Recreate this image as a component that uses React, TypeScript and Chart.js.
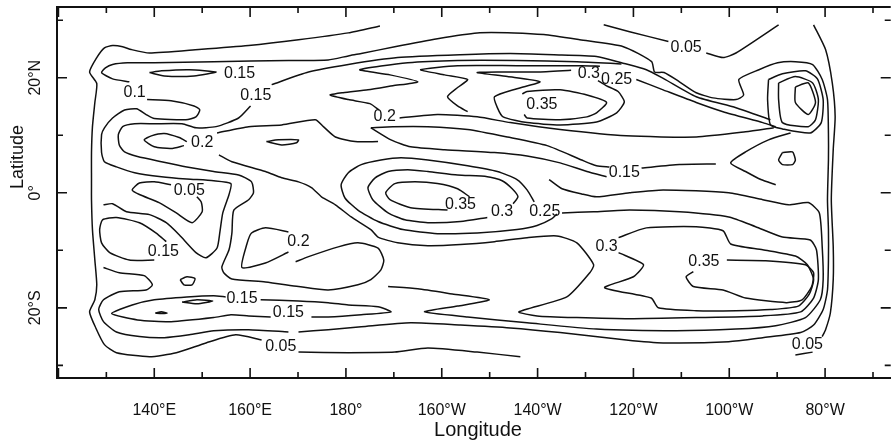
import { useEffect, useRef } from 'react';
import { Chart, registerables } from 'chart.js';

Chart.register(...registerables);

// ---- axis ticks ----
const lonTicks = [120, 130, 140, 150, 160, 170, 180, 190, 200, 210, 220, 230, 240, 250, 260, 270, 280, 290];
const lonTickLabels: Record<number, string> = {
  140: '140°E', 160: '160°E', 180: '180°', 200: '160°W', 220: '140°W', 240: '120°W', 260: '100°W', 280: '80°W',
};
const latTicks = [-30, -20, -10, 0, 10, 20, 30];
const latTickLabels: Record<number, string> = { 20: '20°N', 0: '0°', [-20]: '20°S' };

// ---- contour lines: [longitude (deg E, 0-360), latitude] ----
const c05West = [[187.1,29.0],[180.5,27.8],[170.1,26.6],[159.7,25.6],[149.3,24.9],[139.0,24.3],[135.2,24.9],[133.4,25.4],[131.3,25.6],[129.6,25.2],[128.0,23.5],[126.5,21.0],[128.0,19.0],[127.6,15.7],[127.1,11.5],[126.9,7.0],[126.9,2.3],[126.9,-1.2],[127.1,-6.4],[127.6,-11.7],[128.0,-16.0],[127.6,-18.6],[126.5,-20.7],[127.8,-23.5],[129.6,-26.4],[132.1,-27.8],[139.0,-28.5],[144.6,-27.8],[150.8,-26.1],[157.0,-24.7],[162.4,-25.6]];
const c05South = [[170.1,-27.7],[180.5,-27.8],[190.2,-27.7],[197.1,-27.0],[207.4,-27.7],[216.4,-28.5]];
const c05NorthA = [[233.8,29.2],[239.2,28.0],[247.3,26.3]];
const c05NorthB = [[255.2,24.3],[258.7,23.5],[261.4,24.3],[270.3,29.2]];
const c05East = [[277.6,29.2],[280.1,24.9],[281.5,19.1],[282.1,13.2],[281.7,7.5],[281.3,-1.2],[281.7,-9.4],[281.7,-15.1],[281.1,-20.9],[280.1,-23.8],[279.4,-25.0]];
const c05EastTail = [[277.4,-27.7],[273.8,-28.2]];
const c05Low = [[143.5,1.4],[140.0,1.9],[136.9,1.7],[135.4,0.5],[136.9,-0.3],[141.0,-1.7],[144.6,-3.5],[147.9,-5.2],[150.0,-3.3],[149.8,-1.6],[148.9,-0.7]];

const c10Main = [[134.8,19.3],[131.3,19.8],[129.0,20.9],[129.8,21.7],[131.3,22.3],[134.4,22.6],[140.0,22.6],[152.4,22.8],[168.0,23.0],[176.3,23.1],[180.5,23.8],[183.2,24.2],[190.2,25.4],[199.1,26.8],[207.4,27.8],[215.1,27.8],[221.3,27.5],[228.8,26.6],[237.9,25.4],[243.8,22.8],[244.4,21.0],[246.4,20.9],[249.6,19.3],[253.1,17.4],[256.6,16.5],[261.4,16.2],[263.0,17.0],[262.0,19.7],[266.2,21.4],[270.1,22.6],[273.8,22.8],[277.4,22.3],[279.4,19.7],[280.5,16.2],[280.7,10.4],[280.7,5.7],[280.5,-1.2],[280.7,-6.4],[280.7,-11.7],[280.5,-16.9],[279.6,-20.3],[277.6,-23.0],[274.9,-24.3],[267.0,-25.2],[259.9,-25.9],[246.2,-26.1],[238.5,-25.6],[224.7,-24.3],[214.3,-23.5],[203.9,-23.0],[193.5,-22.6],[183.2,-23.3],[176.3,-23.8],[170.1,-24.2]];
const c10West = [[138.5,16.2],[143.5,16.0],[148.3,15.1],[149.5,14.4],[148.7,13.2],[146.6,12.7],[140.0,12.9],[138.3,13.6],[136.3,14.6],[133.8,14.4],[131.3,13.0],[129.6,11.3],[129.0,10.1],[129.0,7.0],[129.6,5.4],[132.1,4.5],[135.9,3.5],[141.5,2.8],[146.8,2.4],[152.4,2.1],[156.0,1.6],[155.6,-0.3],[154.3,-3.5],[153.7,-6.8],[153.1,-9.6],[150.8,-11.3],[148.7,-10.4],[145.2,-7.3],[142.5,-5.2],[139.0,-3.8],[134.2,-3.3],[131.3,-1.9],[129.4,-2.1]];
const c10SouthWest = [[129.4,-13.0],[132.7,-13.9],[137.9,-14.4],[139.6,-16.0],[138.3,-16.9],[132.7,-17.2],[129.4,-18.6],[128.4,-20.3],[129.4,-22.4],[132.1,-24.2],[136.9,-25.0],[142.1,-25.2],[147.3,-24.7],[152.4,-24.0],[159.7,-23.8],[168.0,-24.2]];

const c15Slender = [[139.0,20.9],[141.5,21.2],[147.3,21.4],[152.9,21.0],[148.3,20.3],[142.1,20.3],[139.0,20.9]];
const c15North = [[164.5,18.8],[172.2,21.0],[180.5,22.3],[190.8,23.5],[203.9,24.0],[214.3,24.2],[223.4,24.0],[232.3,23.7],[237.5,22.6],[242.7,21.4],[246.4,19.8],[253.1,16.7],[261.4,14.8],[268.6,12.7]];
const c15WestU = [[160.1,15.1],[157.6,13.0],[152.9,11.5],[148.7,11.3],[145.8,12.0],[140.0,12.0],[135.9,12.0],[133.4,11.5],[132.5,10.1],[132.7,8.3],[133.8,7.1],[136.5,6.3],[141.5,5.4],[146.8,4.5],[152.4,3.7],[157.6,3.1],[160.3,1.9],[160.7,0.0],[159.7,-1.2],[156.6,-3.0],[156.2,-7.0],[155.6,-9.9],[154.1,-12.9],[154.5,-13.9],[156.2,-15.0],[163.2,-15.5],[170.1,-16.3],[176.3,-16.9],[182.5,-16.0],[185.2,-15.1],[187.3,-13.4],[187.9,-11.7],[186.7,-9.6],[182.5,-8.7],[178.4,-9.4],[172.2,-11.1],[169.5,-12.0]];
const c15Left = [[140.0,-11.7],[134.8,-11.7],[130.7,-10.4],[129.0,-8.7],[128.6,-6.4],[129.2,-4.7],[132.1,-4.3],[136.9,-5.2],[140.4,-7.0],[142.5,-8.5]];
const c15SouthA = [[154.9,-18.1],[152.4,-17.9],[146.8,-18.1],[140.0,-18.6],[135.4,-19.5],[131.1,-21.0],[136.5,-22.1],[143.5,-22.4],[152.4,-21.7],[156.0,-21.2],[159.7,-21.4],[164.3,-21.6]];
const c15SouthB = [[172.8,-21.6],[176.3,-21.6],[183.2,-21.2],[189.4,-20.7],[186.7,-19.8],[180.5,-19.5],[176.3,-19.1],[170.1,-18.8],[162.2,-18.6]];
const c15TongueLow = [[185.2,11.3],[189.4,9.2],[193.5,8.0],[200.6,7.5],[211.0,7.0],[217.8,6.4],[224.7,5.2],[230.3,3.7],[234.4,2.8]];
const c15TongueHigh = [[185.2,11.3],[189.8,11.5],[197.1,11.5],[205.4,11.0],[213.7,9.7],[222.0,8.2],[229.2,5.7],[232.3,4.7],[235.0,4.5]];
const c15East = [[241.7,4.3],[249.6,4.9],[257.2,5.0]];
const c15EastTongue = [[272.8,10.4],[268.2,9.2],[263.4,7.1],[260.3,5.2],[263.4,3.7],[266.6,2.3],[269.7,1.4]];
const circleSW = [[145.4,-15.1],[146.8,-14.6],[148.5,-14.9],[147.9,-16.0],[146.2,-16.0],[145.4,-15.1]];
const dashSW1 = [[140.2,-20.9],[141.5,-20.7],[142.7,-20.9],[141.5,-21.0],[140.2,-20.9]];
const dashSW2 = [[145.8,-19.0],[148.9,-18.6],[152.2,-18.8],[148.9,-19.3],[145.8,-19.0]];

const c20Loop = [[146.8,8.9],[145.2,9.6],[142.1,10.3],[139.4,9.9],[137.9,9.2],[140.0,8.0],[143.5,7.7],[146.2,8.2]];
const c20Top = [[153.1,10.4],[159.7,11.5],[166.6,11.8],[173.6,12.7],[175.3,11.5],[177.8,9.7],[181.9,8.9],[186.7,8.9]];
const c20Island = [[163.4,8.9],[165.9,9.2],[170.1,9.2],[169.7,8.7],[166.6,8.3],[163.4,8.9]];
const c20SouthWest = [[168.0,-6.8],[163.2,-6.1],[160.3,-7.0],[159.3,-9.0],[158.3,-13.0],[163.2,-12.2],[168.0,-10.3]];
const c20NorthZig = [[237.5,22.4],[228.2,22.8],[215.7,23.0],[203.3,23.0],[192.9,22.6],[182.9,21.4],[189.2,20.5],[195.0,19.3],[189.8,18.6],[184.6,17.9],[179.4,17.4],[176.7,17.0],[180.5,16.2],[185.0,15.5],[186.9,14.4]];
const c20NorthLow = [[191.2,13.0],[199.1,13.6],[207.4,13.2],[214.3,12.2],[224.7,11.0],[238.5,9.9],[253.1,9.7],[263.4,10.6],[269.3,11.3]];
const c20SouthEast = [[222.4,2.3],[225.1,0.7],[229.2,-0.2],[232.3,-0.7],[239.2,0.0],[246.2,0.5],[259.9,0.0],[267.0,-1.2],[272.4,-2.1],[276.5,-1.7],[278.8,-3.5],[279.4,-9.4],[279.6,-15.1],[279.0,-18.6],[275.9,-21.7],[269.7,-23.1],[261.4,-23.7],[248.9,-24.0],[232.3,-23.7],[217.8,-22.6],[205.4,-21.6],[196.4,-20.7],[203.3,-19.7],[209.9,-18.6],[202.2,-17.6],[195.0,-16.7],[188.8,-16.3]];
const c20Long = [[153.5,6.6],[156.2,5.4],[163.2,3.7],[166.6,2.6],[170.1,1.9],[172.8,0.9],[174.9,-0.7],[177.8,-2.1],[181.1,-4.2],[185.2,-6.4],[186.7,-7.7],[190.8,-8.7],[197.1,-9.2],[203.9,-9.0],[211.0,-8.5],[217.8,-7.8],[224.0,-7.5],[228.2,-8.7],[231.7,-12.5],[230.9,-13.9],[226.1,-18.1],[216.1,-20.7],[219.9,-21.4],[228.2,-21.7],[239.2,-21.9],[253.1,-21.7],[267.0,-21.4],[274.9,-20.7],[277.6,-18.3],[278.6,-15.1],[278.2,-9.9],[276.9,-8.2],[271.1,-7.7],[265.5,-5.9],[259.9,-4.2],[249.6,-3.3],[239.2,-3.0],[231.7,-3.3],[225.1,-3.5]];

const c25Eq = [[219.3,-1.6],[217.8,0.5],[215.7,2.3],[211.6,3.7],[205.4,4.7],[197.1,5.7],[191.5,6.1],[187.3,5.7],[183.2,4.9],[180.5,3.5],[179.0,1.4],[179.8,-0.9],[182.5,-3.0],[186.7,-5.0],[191.9,-6.4],[199.1,-7.1],[207.4,-7.0],[215.7,-6.4],[219.9,-5.7],[223.0,-4.5],[224.0,-3.7]];
const c25North = [[240.6,19.7],[246.2,17.9],[253.1,15.7],[258.7,14.1],[267.0,12.2],[269.7,11.5]];
const c25NorthZig = [[233.0,22.0],[229.2,22.1],[215.7,22.1],[203.3,22.1],[195.6,21.4],[200.6,20.5],[205.4,19.7],[203.3,18.3],[201.2,16.7],[203.3,15.1],[205.4,14.1]];

const c30Eq = [[209.5,-4.3],[203.9,-5.0],[197.1,-5.2],[192.3,-4.7],[188.8,-3.5],[185.6,-1.2],[184.6,0.9],[186.1,2.6],[188.8,3.7],[192.9,4.0],[197.1,3.7],[203.3,3.1],[209.5,2.8],[212.6,2.1],[214.7,0.7],[215.9,-0.7],[214.9,-1.9]];
const c30North = [[227.0,21.3],[219.9,21.0],[211.6,21.0],[207.4,20.9],[213.7,20.2],[220.5,19.3],[215.7,18.1],[211.0,16.7],[211.6,14.8],[212.8,13.2],[217.8,12.2],[224.7,11.8],[232.3,12.3],[236.5,13.9],[238.1,15.8],[236.8,17.6],[234.4,18.6],[232.6,19.5]];
const c30South = [[236.9,-7.8],[242.7,-6.1],[253.1,-5.9],[258.7,-6.6],[260.3,-8.9],[267.0,-9.9],[273.8,-11.0],[276.3,-12.5],[277.6,-15.1],[276.7,-17.6],[274.4,-19.7],[268.6,-20.3],[261.4,-20.5],[253.1,-20.5],[245.2,-20.0],[243.7,-18.3],[234.0,-16.5],[240.0,-14.6],[242.1,-12.5],[236.9,-10.4]];

const c35North = [[217.2,13.6],[217.8,13.0],[224.7,12.7],[230.3,13.2],[232.3,13.9],[234.4,15.7],[230.3,17.0],[224.7,17.9],[217.8,17.6],[216.8,17.2]];
const c35Eq = [[201.2,-3.0],[193.5,-2.6],[189.2,-1.2],[188.3,0.0],[190.2,1.6],[194.4,1.9],[199.1,1.6],[203.3,0.7],[205.8,-0.7]];
const c35South = [[259.5,-11.7],[267.6,-11.8],[275.9,-12.5],[277.6,-13.9],[277.2,-16.3],[275.2,-18.6],[271.9,-19.1],[263.4,-18.3],[258.7,-16.9],[252.5,-16.3],[251.0,-14.6],[252.5,-13.7]];

const cellInner = [[273.8,18.4],[276.5,19.1],[278.0,15.7],[276.5,13.6],[273.8,15.7],[273.8,18.4]];
const cellMiddle = [[270.3,19.1],[273.8,20.2],[277.4,19.1],[278.6,16.2],[278.0,12.7],[276.5,11.5],[271.1,12.2],[270.3,16.2],[270.3,19.1]];
const cellOuter = [[268.2,19.7],[271.1,20.7],[275.9,21.2],[278.4,19.8],[279.6,16.2],[279.2,12.2],[276.9,10.4],[271.1,11.1],[268.6,11.8],[268.0,16.2],[268.2,19.7]];
const cellSmall = [[271.1,7.0],[273.2,7.1],[273.8,5.7],[273.2,4.9],[271.1,4.9],[270.3,5.7],[271.1,7.0]];

const contours = [
  c05West, c05South, c05NorthA, c05NorthB, c05East, c05EastTail, c05Low,
  c10Main, c10West, c10SouthWest,
  c15Slender, c15North, c15WestU, c15Left, c15SouthA, c15SouthB, c15TongueLow, c15TongueHigh, c15East, c15EastTongue,
  circleSW, dashSW1, dashSW2,
  c20Loop, c20Top, c20Island, c20SouthWest, c20NorthZig, c20NorthLow, c20SouthEast, c20Long,
  c25Eq, c25North, c25NorthZig,
  c30Eq, c30North, c30South,
  c35North, c35Eq, c35South,
  cellInner, cellMiddle, cellOuter, cellSmall,
];

// contour value labels: [lon, lat, text]
const contourLabels: [number, number, string][] = [
  [166.4, -26.8, '0.05'], [251.0, 25.2, '0.05'], [276.3, -26.4, '0.05'], [147.3, 0.3, '0.05'],
  [135.9, 17.4, '0.1'],
  [157.8, 20.7, '0.15'], [161.2, 16.9, '0.15'], [141.9, -10.3, '0.15'], [158.3, -18.4, '0.15'], [168.0, -20.9, '0.15'], [238.1, 3.5, '0.15'],
  [150.0, 8.7, '0.2'], [188.1, 13.2, '0.2'], [170.1, -8.5, '0.2'],
  [236.5, 19.7, '0.25'], [221.5, -3.3, '0.25'],
  [230.7, 20.8, '0.3'], [212.6, -3.3, '0.3'], [234.4, -9.4, '0.3'],
  [220.9, 15.3, '0.35'], [203.9, -2.1, '0.35'], [254.7, -12.0, '0.35'],
];

const FONT = '"Liberation Sans", Arial, Helvetica, sans-serif';
const INK = '#111';

const framePlugin = {
  id: 'frame',
  afterDraw(chart: any) {
    const { ctx, chartArea: a, scales } = chart;
    const xs = scales.x;
    const ys = scales.y;
    ctx.save();
    ctx.strokeStyle = INK;
    ctx.lineWidth = 2;
    ctx.beginPath();
    ctx.moveTo(a.left - 1, a.top);
    ctx.lineTo(a.right, a.top);
    ctx.stroke();
    ctx.lineWidth = 1.6;
    for (const v of lonTicks) {
      const px = xs.getPixelForValue(v);
      const len = v % 20 === 0 ? 10 : 6;
      ctx.beginPath();
      ctx.moveTo(px, a.bottom);
      ctx.lineTo(px, a.bottom - len);
      ctx.moveTo(px, a.top);
      ctx.lineTo(px, a.top + len);
      ctx.stroke();
    }
    for (const v of latTicks) {
      const py = ys.getPixelForValue(v);
      const len = v % 20 === 0 ? 10 : 6;
      ctx.beginPath();
      ctx.moveTo(a.left, py);
      ctx.lineTo(a.left + len, py);
      ctx.moveTo(a.right, py);
      ctx.lineTo(a.right - len, py);
      ctx.stroke();
    }
    ctx.fillStyle = INK;
    ctx.font = `16px ${FONT}`;
    ctx.textAlign = 'center';
    ctx.textBaseline = 'middle';
    for (const v of latTicks) {
      const t = latTickLabels[v];
      if (!t) continue;
      const py = ys.getPixelForValue(v);
      ctx.save();
      ctx.translate(36, py);
      ctx.rotate(-Math.PI / 2);
      ctx.fillText(t, 0, 0);
      ctx.restore();
    }
    ctx.font = `18px ${FONT}`;
    ctx.save();
    ctx.translate(18, 157);
    ctx.rotate(-Math.PI / 2);
    ctx.fillText('Latitude', 0, 0);
    ctx.restore();
    ctx.font = `20px ${FONT}`;
    ctx.fillText('Longitude', 478, 430);
    ctx.font = `16px ${FONT}`;
    for (const [lon, lat, t] of contourLabels) {
      ctx.fillText(t, xs.getPixelForValue(lon), ys.getPixelForValue(lat));
    }
    ctx.restore();
  },
};

export default function App() {
  const ref = useRef<HTMLCanvasElement | null>(null);
  useEffect(() => {
    if (!ref.current) return;
    const chart = new Chart(ref.current, {
      type: 'scatter',
      data: {
        datasets: contours.map((c) => ({
          data: c.map(([x, y]) => ({ x, y })),
          showLine: true,
          borderColor: INK,
          borderWidth: 1.5,
          pointRadius: 0,
          pointHoverRadius: 0,
          tension: 0.2,
          fill: false,
        })),
      },
      options: {
        animation: false,
        responsive: false,
        devicePixelRatio: 1,
        layout: { padding: { top: 7, left: 0, right: 0, bottom: 0 } },
        plugins: { legend: { display: false }, tooltip: { enabled: false } },
        scales: {
          x: {
            type: 'linear',
            min: 119.7,
            max: 293.7,
            afterBuildTicks: (s: any) => { s.ticks = lonTicks.map((v) => ({ value: v })); },
            afterFit: (s: any) => { s.height = 64; },
            ticks: {
              autoSkip: false,
              maxRotation: 0,
              minRotation: 0,
              includeBounds: false,
              padding: 23,
              color: INK,
              font: { family: FONT, size: 16 },
              callback: (v: any) => lonTickLabels[v as number] ?? '',
            },
            grid: { display: false, drawTicks: false },
            border: { display: true, color: INK, width: 2 },
          },
          y: {
            type: 'linear',
            min: -32.2,
            max: 32.3,
            afterBuildTicks: (s: any) => { s.ticks = latTicks.map((v) => ({ value: v })); },
            afterFit: (s: any) => { s.width = 57; },
            ticks: { display: false },
            grid: { display: false, drawTicks: false },
            border: { display: true, color: INK, width: 2 },
          },
        },
      },
      plugins: [framePlugin],
    });
    return () => chart.destroy();
  }, []);
  return (
    <div style={{ position: 'fixed', left: 0, top: 0, width: 896, height: 442, background: '#fff' }}>
      <canvas ref={ref} width={896} height={442} style={{ width: 896, height: 442, display: 'block' }} />
    </div>
  );
}
